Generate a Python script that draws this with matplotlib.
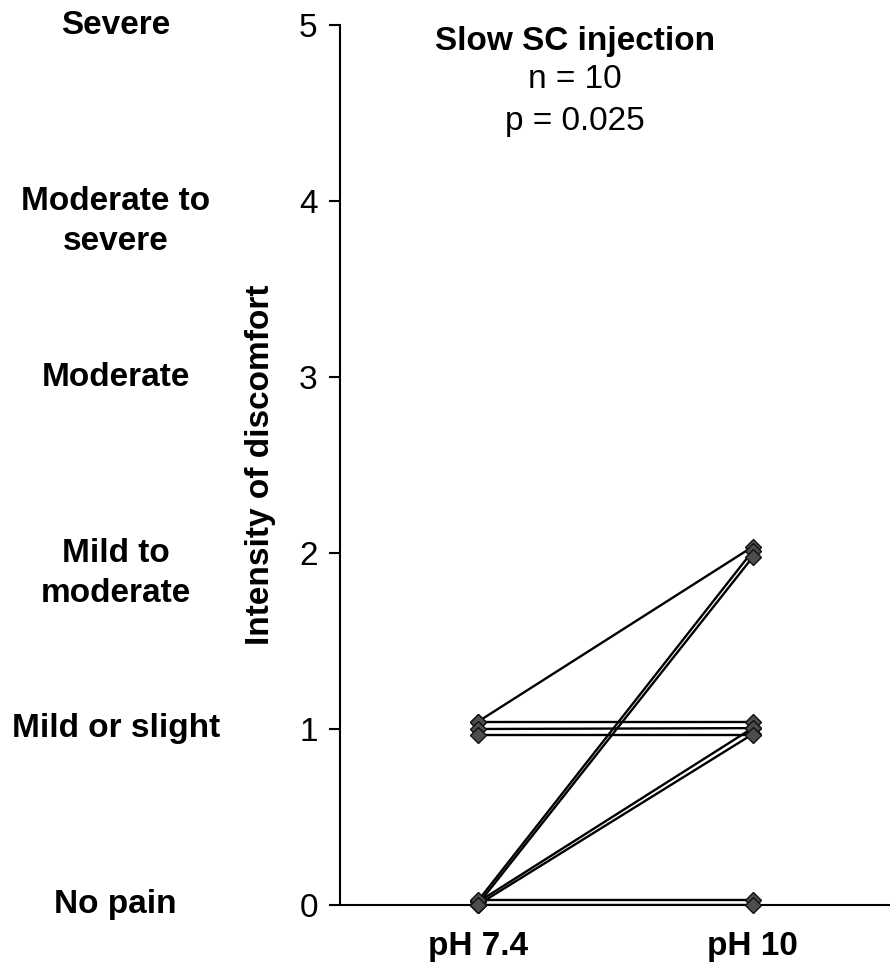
import numpy as np
import matplotlib
matplotlib.use("Agg")
import matplotlib.pyplot as plt
import matplotlib.transforms as mtransforms

plt.rcParams['font.family'] = ['Liberation Sans', 'DejaVu Sans']

# discomfort scores per subject (pH 7.4 -> pH 10)
score_ph74 = [1, 0, 0, 0, 0, 1, 1, 1, 0, 0]
score_ph10 = [2, 2, 2, 1, 1, 1, 1, 1, 0, 0]
conditions = ['pH 7.4', 'pH 10']
scale_ticks = [0, 1, 2, 3, 4, 5]
scale_names = ['No pain', 'Mild or slight', 'Mild to\nmoderate', 'Moderate',
               'Moderate to\nsevere', 'Severe']
title = 'Slow SC injection'
n_text = 'n = 10'
p_text = 'p = 0.025'

# small vertical nudges so overlapping subjects stay visible
nudge_left = [0.04, 0.02, 0.0, 0.015, 0.0, 0.04, 0.0, -0.035, 0.03, 0.0]
nudge_right = [0.035, 0.01, -0.025, 0.005, -0.03, 0.04, 0.005, -0.035, 0.03, 0.0]
xpos = [1, 3]

fig = plt.figure(figsize=(8.9, 9.65), dpi=100)
ax = fig.add_axes([340/890, 60/965, 550/890, 880/965])

for i in range(len(score_ph74)):
    y = [score_ph74[i] + nudge_left[i], score_ph10[i] + nudge_right[i]]
    ax.plot(xpos, y, color='black', lw=1.7, zorder=2, solid_capstyle='butt')
for i in range(len(score_ph74)):
    y = [score_ph74[i] + nudge_left[i], score_ph10[i] + nudge_right[i]]
    ax.plot(xpos, y, linestyle='none', marker='D', ms=8.5, mfc='#4d4d4d',
            mec='#111111', mew=1.0, zorder=3, clip_on=False)

ax.set_xlim(0, 4)
ax.set_ylim(0, 5)
ax.spines['top'].set_visible(False)
ax.spines['right'].set_visible(False)
ax.spines['left'].set_linewidth(1.5)
ax.spines['bottom'].set_linewidth(1.5)

ax.set_xticks(xpos)
ax.set_xticklabels(conditions, fontsize=24, fontweight='bold')
ax.tick_params(axis='x', length=0, pad=19)
ax.set_yticks(scale_ticks)
ax.set_yticklabels([str(t) for t in scale_ticks], fontsize=24)
ax.tick_params(axis='y', length=8, width=1.5, pad=8, direction='out')

ax.set_ylabel('Intensity of discomfort', fontsize=24, fontweight='bold')
ax.yaxis.set_label_coords(-0.117, 0.5)

# verbal descriptors of the scale on the far left
trans = mtransforms.blended_transform_factory(fig.transFigure, ax.transData)
for t, name in zip(scale_ticks, scale_names):
    for j, line in enumerate(name.split('\n')):
        ax.annotate(line, xy=(0.13, t), xycoords=trans,
                    xytext=(0, -29.5 * j), textcoords='offset points',
                    ha='center', va='center', fontsize=24, fontweight='bold',
                    annotation_clip=False)

ax.text(0.427, 0.981, title, transform=ax.transAxes, ha='center', va='center',
        fontsize=24, fontweight='bold')
ax.text(0.427, 0.9375, n_text, transform=ax.transAxes, ha='center', va='center',
        fontsize=24)
ax.text(0.427, 0.89, p_text, transform=ax.transAxes, ha='center', va='center',
        fontsize=24)

fig.savefig('out.png', dpi=100)
